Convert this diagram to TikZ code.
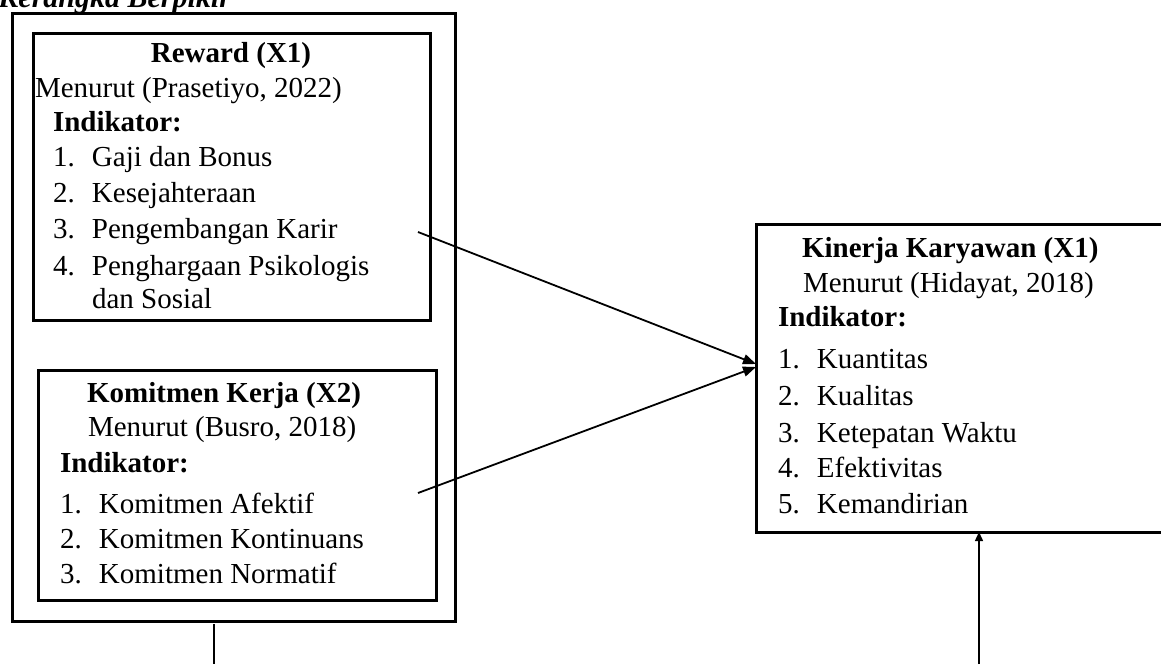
\documentclass[tikz,border=0pt]{standalone}
\usepackage{fontspec}
\setmainfont{Liberation Serif}
\usetikzlibrary{arrows.meta,calc}
\newcommand{\myitem}[2]{\makebox[39pt][l]{#1}#2}
\begin{document}
\begin{tikzpicture}[x=1pt,y=-1pt,
  every node/.style={inner sep=0pt, outer sep=0pt},
  frame/.style={draw, line width=3pt, anchor=north west},
  txt/.style={anchor=base west, font=\fontsize{29}{34}\selectfont},
  hd/.style={anchor=base, font=\fontsize{29}{34}\selectfont\bfseries},
  hdw/.style={anchor=base west, font=\fontsize{29}{34}\selectfont\bfseries},
  link/.style={line width=1.8pt, -{Triangle[length=13pt,width=10pt]}},
  uplink/.style={line width=1.4pt, -{Triangle[length=9pt,width=8pt]}}
]
\clip (0,0) rectangle (1161,664);
\fill[white] (0,0) rectangle (1161,664);

% title
\node[anchor=base east, font=\fontsize{30}{34}\selectfont\bfseries\itshape] (title) at (231,7) {Kerangka Berpikir};

% boxes
\node[frame, minimum width=443pt, minimum height=608pt] (outer) at (12,13) {};
\node[frame, minimum width=397pt, minimum height=287pt] (reward) at (33,33) {};
\node[frame, minimum width=398pt, minimum height=230pt] (komit) at (38,370) {};
\node[frame, minimum width=424pt, minimum height=308pt] (kinerja) at (756,224) {};

% Reward text
\node[hd] (r0) at (231,62) {Reward (X1)};
\node[txt] (r1) at (35,97) {Menurut (Prasetiyo, 2022)};
\node[hdw] (r2) at (53,131) {Indikator:};
\node[txt] (r3) at (53,166) {\myitem{1.}{Gaji dan Bonus}};
\node[txt] (r4) at (53,202) {\myitem{2.}{Kesejahteraan}};
\node[txt] (r5) at (53,238) {\myitem{3.}{Pengembangan Karir}};
\node[txt] (r6) at (53,275) {\myitem{4.}{Penghargaan Psikologis}};
\node[txt] (r7) at (92,308) {dan Sosial};

% Komitmen text
\node[hd] (k0) at (224,402) {Komitmen Kerja (X2)};
\node[txt] (k1) at (88,436) {Menurut (Busro, 2018)};
\node[hdw] (k2) at (60,472) {Indikator:};
\node[txt] (k3) at (60,513) {\myitem{1.}{Komitmen Afektif}};
\node[txt] (k4) at (60,548) {\myitem{2.}{Komitmen Kontinuans}};
\node[txt] (k5) at (60,583) {\myitem{3.}{Komitmen Normatif}};

% Kinerja text
\node[hdw] (y0) at (802,257) {Kinerja Karyawan (X1)};
\node[txt] (y1) at (803,292) {Menurut (Hidayat, 2018)};
\node[hdw] (y2) at (778,326) {Indikator:};
\node[txt] (y3) at (778,368) {\myitem{1.}{Kuantitas}};
\node[txt] (y4) at (778,405) {\myitem{2.}{Kualitas}};
\node[txt] (y5) at (778,442) {\myitem{3.}{Ketepatan Waktu}};
\node[txt] (y6) at (778,477) {\myitem{4.}{Efektivitas}};
\node[txt] (y7) at (778,513) {\myitem{5.}{Kemandirian}};

% connectors
\coordinate (rstart) at (418,232);
\coordinate (kstart) at (418,493);
\coordinate (upstart) at (979,664);
\coordinate (downend) at (214,664);
\draw[link] (rstart) -- ([yshift=14pt]kinerja.west);
\draw[link] (kstart) -- ([yshift=11pt]kinerja.west);
\draw[uplink] (upstart) -- (upstart |- kinerja.south);
\draw[line width=1.8pt] ([yshift=-3pt]outer.south -| downend) -- (downend);
\end{tikzpicture}
\end{document}
